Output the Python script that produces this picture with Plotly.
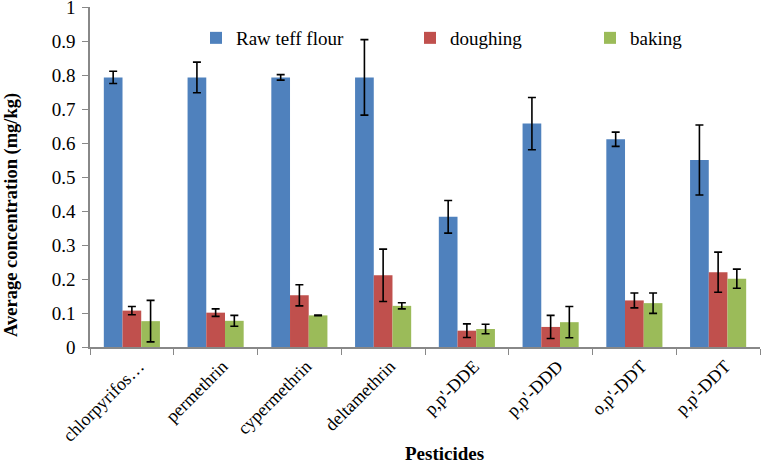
import plotly.graph_objects as go

categories = ["chlorpyrifos…", "permethrin", "cypermethrin", "deltamethrin",
              "p,p'-DDE", "p,p'-DDD", "o,p'-DDT", "p,p'-DDT"]
raw = [0.793, 0.793, 0.793, 0.793, 0.383, 0.657, 0.611, 0.550]
raw_err = [0.018, 0.045, 0.008, 0.111, 0.048, 0.077, 0.021, 0.103]
dough = [0.107, 0.101, 0.152, 0.211, 0.048, 0.059, 0.137, 0.220]
dough_err = [0.012, 0.011, 0.031, 0.077, 0.020, 0.034, 0.022, 0.059]
bake = [0.076, 0.077, 0.093, 0.121, 0.053, 0.073, 0.129, 0.201]
bake_err = [0.061, 0.016, 0.001, 0.009, 0.014, 0.046, 0.030, 0.028]
y_ticks = [0, 0.1, 0.2, 0.3, 0.4, 0.5, 0.6, 0.7, 0.8, 0.9, 1]
y_tick_text = ["0", "0.1", "0.2", "0.3", "0.4", "0.5", "0.6", "0.7", "0.8", "0.9", "1"]

FONT = "Liberation Serif, Times New Roman, serif"
W, H = 761, 464
L, R, T, B = 90, 1, 7, 117
PW, PH = W - L - R, H - T - B

def err(vals):
    return dict(type="data", array=vals, visible=True, color="black",
                thickness=1.6, width=4)

fig = go.Figure()
fig.add_trace(go.Bar(x=categories, y=raw, name="Raw teff flour", marker_color="#4F81BD",
                     marker_line_width=0, error_y=err(raw_err), legend="legend"))
fig.add_trace(go.Bar(x=categories, y=dough, name="doughing", marker_color="#C0504D",
                     marker_line_width=0, error_y=err(dough_err), legend="legend2"))
fig.add_trace(go.Bar(x=categories, y=bake, name="baking", marker_color="#9BBB59",
                     marker_line_width=0, error_y=err(bake_err), legend="legend3"))

def leg(px):
    return dict(orientation="h", yanchor="middle", y=1 - (38 - T) / PH,
                xanchor="left", x=(px - L) / PW,
                font=dict(family=FONT, size=19, color="black"),
                bgcolor="rgba(0,0,0,0)", itemwidth=30)

fig.update_layout(
    width=W, height=H,
    margin=dict(l=L, r=R, t=T, b=B),
    paper_bgcolor="white", plot_bgcolor="white",
    barmode="group", bargap=0.33, bargroupgap=0,
    font=dict(family=FONT, size=18, color="black"),
    showlegend=True,
    legend=leg(196), legend2=leg(410), legend3=leg(590),
    xaxis=dict(
        type="category", tickangle=-45, showline=True, linecolor="#888888", linewidth=1.5,
        ticks="outside", tickson="boundaries", ticklen=6, tickcolor="#888888",
        tickfont=dict(family=FONT, size=18, color="black"), ticklabelshift=7,
        showgrid=False, automargin=False,
    ),
    yaxis=dict(
        range=[0, 1], tickvals=y_ticks, ticktext=y_tick_text,
        showline=True, linecolor="#888888", linewidth=1.5,
        ticks="outside", ticklen=6, tickcolor="#888888", showgrid=False, zeroline=False,
        tickfont=dict(family=FONT, size=19, color="black"), automargin=False,
        ticklabelstandoff=3, ticklabeloverflow="allow",
    ),
    annotations=[
        dict(text="<b>Pesticides</b>", xref="paper", yref="paper",
             x=(444 - L) / PW, y=-(453 - T - PH) / PH, xanchor="center", yanchor="middle",
             showarrow=False, font=dict(family=FONT, size=19, color="black")),
        dict(text="<b>Average concentration (mg/kg)</b>", xref="paper", yref="paper",
             x=(11 - L) / PW, y=1 - (215 - T) / PH, xanchor="center", yanchor="middle",
             textangle=-90, showarrow=False, font=dict(family=FONT, size=18.5, color="black")),
    ],
)

fig.write_html("out.html", config={"displayModeBar": False},
               post_script="document.body.style.margin='0px';document.body.style.overflow='hidden';")
